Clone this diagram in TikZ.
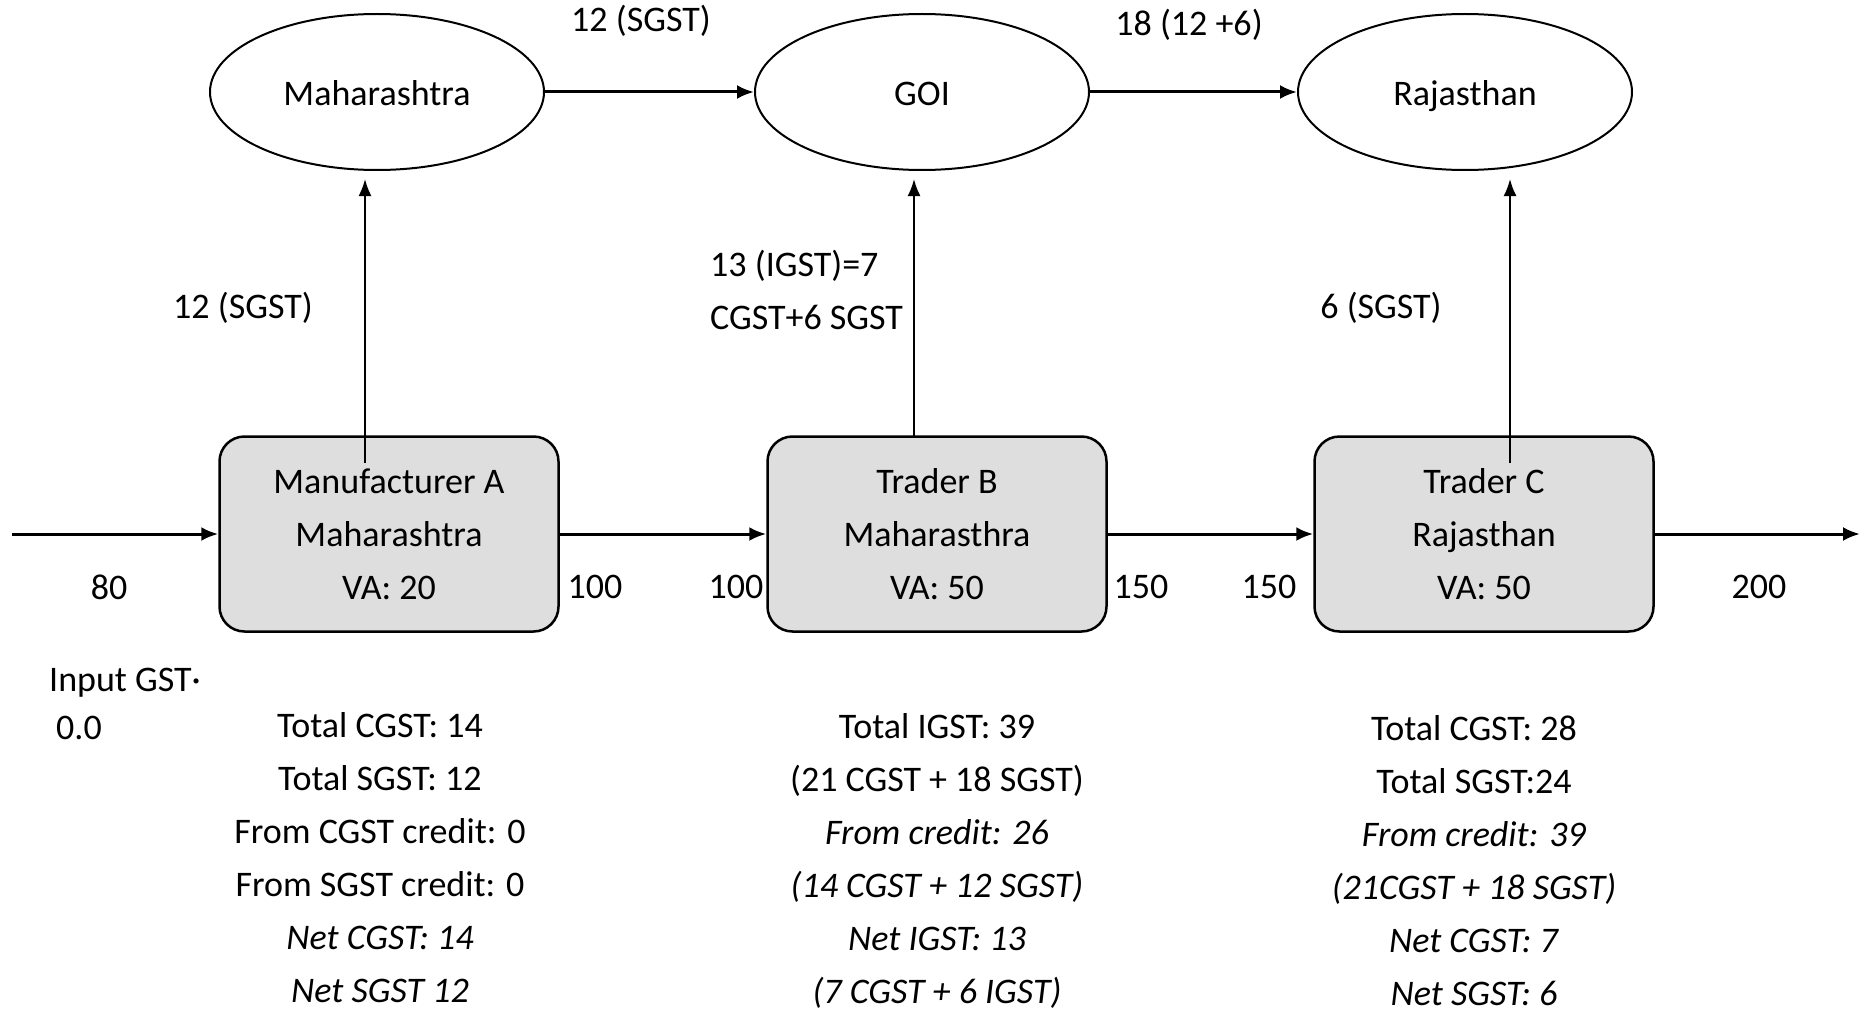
\documentclass[tikz,border=0pt]{standalone}
\usepackage{fontspec}
\setmainfont{Carlito}
\usetikzlibrary{shapes.geometric,arrows.meta}

\begin{document}
\begin{tikzpicture}[%
      x=1pt, y=-1pt,
      every node/.style={inner sep=0pt, font=\fontsize{36}{53}\selectfont},
      state/.style={draw, line width=2pt, ellipse, minimum width=334pt, minimum height=156pt,
        text height=34pt, text depth=7pt},
      dealer/.style={draw, line width=2.5pt, fill=black!13, rounded corners=25pt,
        minimum width=339pt, minimum height=195pt, align=center},
      flow/.style={line width=3pt, -{Latex[length=17pt,width=14pt]}},
      tax/.style={line width=2pt, -{Latex[length=17pt,width=13pt]}, shorten >=8pt},
      ]
      \useasboundingbox (0,0) rectangle (1862,1014);

      % governments
      \node (maha) [state] at (377,92) {Maharashtra};
      \node (goi) [state] at (922,92) {GOI};
      \node (raj) [state] at (1465,92) {Rajasthan};

      % dealers
      \node (ma) [dealer] at (389,534) {Manufacturer A\\Maharashtra\\VA: 20};
      \node (tb) [dealer] at (937,534) {Trader B\\Maharasthra\\VA: 50};
      \node (tc) [dealer] at (1484,534) {Trader C\\Rajasthan\\VA: 50};

      \coordinate (start) at (12,534);
      \coordinate (stop) at (1860,534);
      \coordinate (ua) at (365,463);
      \coordinate (ub) at (914,437);
      \coordinate (uc) at (1510,463);

      \draw [flow] (start) -- (ma);
      \draw [flow] (ma) -- (tb);
      \draw [flow] (tb) -- (tc);
      \draw [flow] (tc) -- (stop);
      \draw [flow] (maha) -- (goi);
      \draw [flow] (goi) -- (raj);

      \draw [tax] (ua) -- (ua |- maha.south);
      \draw [tax] (ub) -- (ub |- goi.south);
      \draw [tax] (uc) -- (uc |- raj.south);

      % amounts
      \node (s1) at (641,21) {12 (SGST)};
      \node (s2) at (1189,25) {18 (12 +6)};
      \node (s3) at (243,308) {12 (SGST)};
      \node (s4) [anchor=west, align=left] at (710,290) {13 (IGST)=7\\CGST+6 SGST};
      \node (s5) at (1381,308) {6 (SGST)};

      \node (p1) at (109,587) {80};
      \node (p2) at (595,587) {100};
      \node (p3) at (736,587) {100};
      \node (p4) at (1141,587) {150};
      \node (p5) at (1269,587) {150};
      \node (p6) at (1759,587) {200};

      \node (in1) [anchor=west] at (49,683) {Input GST·};
      \node (in2) [anchor=west] at (56,728) {0.0};

      \node (suma) [align=center] at (380,858) {Total CGST: 14\\Total SGST: 12\\From CGST credit: 0\\From SGST credit: 0\\\textit{Net CGST: 14}\\\textit{Net SGST 12}};
      \node (sumb) [align=center] at (937,861) {Total IGST: 39\\(21 CGST + 18 SGST)\\\textit{From credit: 26}\\\textit{(14 CGST + 12 SGST)}\\\textit{Net IGST: 13}\\\textit{(7 CGST + 6 IGST)}};
      \node (sumc) [align=center] at (1474,861) {Total CGST: 28\\Total SGST:24\\\textit{From credit: 39}\\\textit{(21CGST + 18 SGST)}\\\textit{Net CGST: 7}\\\textit{Net SGST: 6}};
\end{tikzpicture}
\end{document}
